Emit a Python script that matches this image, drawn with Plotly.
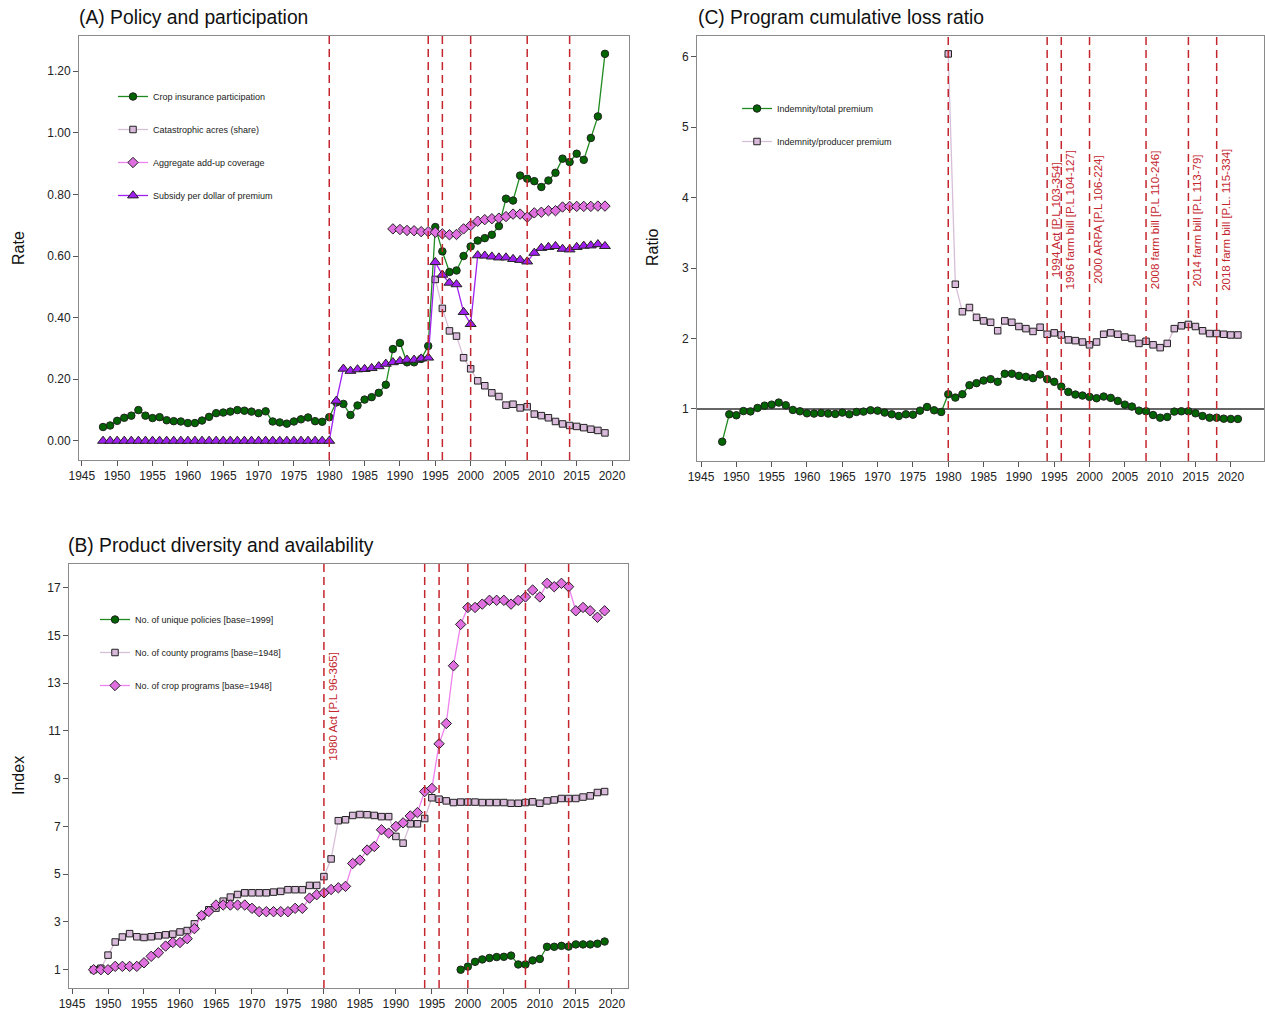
import plotly.graph_objects as go

W, H = 1265, 1015

# ---------------- Panel A data ----------------
years_a = list(range(1948, 2020))
participation = [0.045, 0.050, 0.065, 0.075, 0.082, 0.100, 0.082, 0.074, 0.077, 0.067,
                 0.064, 0.063, 0.058, 0.058, 0.066, 0.078, 0.090, 0.092, 0.095, 0.100,
                 0.098, 0.095, 0.090, 0.096, 0.063, 0.060, 0.056, 0.063, 0.070, 0.076,
                 0.064, 0.062, 0.077, 0.125, 0.120, 0.084, 0.115, 0.134, 0.142, 0.156,
                 0.182, 0.298, 0.318, 0.255, 0.255, 0.266, 0.308, 0.694, 0.615, 0.548,
                 0.553, 0.600, 0.631, 0.650, 0.658, 0.669, 0.697, 0.786, 0.780, 0.861,
                 0.851, 0.843, 0.824, 0.845, 0.870, 0.916, 0.905, 0.932, 0.912, 0.983,
                 1.053, 1.256]
subsidy = [0.0, 0.0, 0.0, 0.0, 0.0, 0.0, 0.0, 0.0, 0.0, 0.0,
           0.0, 0.0, 0.0, 0.0, 0.0, 0.0, 0.0, 0.0, 0.0, 0.0,
           0.0, 0.0, 0.0, 0.0, 0.0, 0.0, 0.0, 0.0, 0.0, 0.0,
           0.0, 0.0, 0.0, 0.130, 0.234, 0.227, 0.232, 0.233, 0.236, 0.242,
           0.250, 0.255, 0.259, 0.263, 0.263, 0.267, 0.270, 0.580, 0.539, 0.513,
           0.508, 0.418, 0.379, 0.602, 0.601, 0.598, 0.595, 0.595, 0.590, 0.587,
           0.582, 0.610, 0.626, 0.629, 0.632, 0.623, 0.621, 0.629, 0.633, 0.634,
           0.638, 0.632]
years_cat = list(range(1995, 2020))
catastrophic = [0.524, 0.430, 0.357, 0.340, 0.270, 0.234, 0.195, 0.179, 0.156, 0.144,
                0.116, 0.119, 0.107, 0.111, 0.087, 0.082, 0.075, 0.063, 0.055, 0.050,
                0.047, 0.043, 0.038, 0.034, 0.026]
years_agg = list(range(1989, 2020))
aggregate = [0.688, 0.686, 0.683, 0.682, 0.679, 0.679, 0.677, 0.672, 0.669, 0.670,
             0.688, 0.699, 0.713, 0.718, 0.721, 0.723, 0.728, 0.736, 0.736, 0.726,
             0.740, 0.742, 0.747, 0.747, 0.759, 0.761, 0.761, 0.761, 0.761, 0.762,
             0.762]

# ---------------- Panel C data ----------------
years_c = list(range(1948, 2022))
loss_total = [0.535, 0.924, 0.910, 0.970, 0.965, 1.014, 1.047, 1.061, 1.090, 1.052,
              0.986, 0.967, 0.938, 0.934, 0.943, 0.934, 0.929, 0.948, 0.924, 0.957,
              0.962, 0.981, 0.976, 0.948, 0.924, 0.900, 0.924, 0.919, 0.976, 1.028,
              0.981, 0.957, 1.209, 1.161, 1.209, 1.337, 1.366, 1.403, 1.423, 1.385,
              1.499, 1.500, 1.470, 1.456, 1.437, 1.489, 1.423, 1.385, 1.318, 1.242,
              1.204, 1.190, 1.171, 1.152, 1.176, 1.157, 1.114, 1.061, 1.033, 0.976,
              0.967, 0.914, 0.876, 0.886, 0.962, 0.967, 0.967, 0.938, 0.900, 0.876,
              0.876, 0.862, 0.858, 0.858]
years_prod = list(range(1980, 2022))
loss_producer = [6.04, 2.77, 2.38, 2.44, 2.30, 2.25, 2.23, 2.11, 2.25, 2.23,
                 2.17, 2.14, 2.10, 2.16, 2.06, 2.08, 2.05, 1.98, 1.97, 1.95,
                 1.91, 1.95, 2.06, 2.08, 2.06, 2.02, 2.00, 1.93, 1.96, 1.91,
                 1.87, 1.93, 2.14, 2.18, 2.20, 2.17, 2.11, 2.07, 2.07, 2.06,
                 2.05, 2.05]

# ---------------- Panel B data ----------------
years_b = list(range(1948, 2020))
crop_programs = [1.00, 1.00, 1.00, 1.14, 1.14, 1.14, 1.14, 1.29, 1.56, 1.71,
                 1.99, 2.14, 2.14, 2.30, 2.72, 3.27, 3.44, 3.71, 3.71, 3.71,
                 3.71, 3.71, 3.57, 3.43, 3.43, 3.43, 3.43, 3.43, 3.57, 3.57,
                 4.00, 4.14, 4.22, 4.36, 4.43, 4.49, 5.45, 5.59, 6.01, 6.16,
                 6.86, 6.72, 7.00, 7.15, 7.44, 7.58, 8.46, 8.59, 10.46, 11.31,
                 13.73, 15.46, 16.17, 16.17, 16.31, 16.47, 16.47, 16.47, 16.31, 16.47,
                 16.61, 16.90, 16.61, 17.18, 17.04, 17.18, 17.04, 16.03, 16.17, 16.03,
                 15.76, 16.03]
county_programs = [1.00, 1.06, 1.61, 2.16, 2.37, 2.51, 2.38, 2.35, 2.38, 2.42,
                   2.46, 2.49, 2.58, 2.64, 2.92, 3.25, 3.51, 3.58, 3.87, 4.04,
                   4.15, 4.22, 4.22, 4.22, 4.22, 4.25, 4.28, 4.35, 4.35, 4.35,
                   4.53, 4.53, 4.90, 5.64, 7.24, 7.28, 7.46, 7.50, 7.49, 7.46,
                   7.41, 7.41, 6.58, 6.30, 7.11, 7.11, 7.33, 8.20, 8.14, 8.07,
                   8.00, 8.02, 8.02, 8.02, 8.00, 8.00, 8.00, 8.00, 7.97, 7.97,
                   8.00, 8.03, 7.97, 8.07, 8.11, 8.17, 8.17, 8.17, 8.23, 8.28,
                   8.42, 8.46]
years_pol = list(range(1999, 2020))
unique_policies = [1.00, 1.13, 1.33, 1.43, 1.49, 1.53, 1.54, 1.59, 1.22, 1.22,
                   1.39, 1.45, 1.96, 1.96, 2.00, 1.97, 2.06, 2.06, 2.06, 2.09,
                   2.18]

# ---------------- policy events ----------------
events_ab = [1980, 1994, 1996, 2000, 2008, 2014]
events_c = [1980, 1994, 1996, 2000, 2008, 2014, 2018]
labels_c_years = [1994, 1996, 2000, 2008, 2014, 2018]
labels_c = ["1994 Act [P.L 103-354]", "1996 farm bill [P.L 104-127]",
            "2000 ARPA [P.L 106-224]", "2008 farm bill [P.L 110-246]",
            "2014 farm bill [P.L 113-79]", "2018 farm bill [P.L. 115-334]"]
label_b_year = 1980
label_b = "1980 Act [P.L 96-365]"

FONT = "Arial, Liberation Sans, sans-serif"
RED = "#C4262E"
GREEN_L = "#1F8A1F"
GREEN_M = "#006400"
THISTLE = "#D8BFD8"
THISTLE_M = "#D9B9D9"
VIOLET = "#EE82EE"
VIOLET_M = "#E070E0"
PURPLE = "#A020F0"
EDGE = "#222222"

fig = go.Figure()


def add(x, y, name, lcolor, mcolor, symbol, size, xa, ya, legend, group):
    fig.add_trace(go.Scatter(
        x=x, y=y, name=name, mode="lines+markers",
        line=dict(color=lcolor, width=1.3),
        marker=dict(symbol=symbol, size=size, color=mcolor,
                    line=dict(color=EDGE, width=1)),
        xaxis=xa, yaxis=ya, legend=legend, legendgroup=group))


# Panel A
add(years_a, participation, "Crop insurance participation", GREEN_L, GREEN_M, "circle", 7.5, "x", "y", "legend", "a1")
add(years_cat, catastrophic, "Catastrophic acres (share)", THISTLE, THISTLE_M, "square", 6.5, "x", "y", "legend", "a2")
add(years_agg, aggregate, "Aggregate add-up coverage", VIOLET, VIOLET_M, "diamond", 8, "x", "y", "legend", "a3")
add(years_a, subsidy, "Subsidy per dollar of premium", PURPLE, PURPLE, "triangle-up", 9.5, "x", "y", "legend", "a4")

# Panel C
add(years_c, loss_total, "Indemnity/total premium", GREEN_L, GREEN_M, "circle", 7.5, "x2", "y2", "legend2", "c1")
add(years_prod, loss_producer, "Indemnity/producer premium", THISTLE, THISTLE_M, "square", 6.5, "x2", "y2", "legend2", "c2")

# Panel B
add(years_pol, unique_policies, "No. of unique policies [base=1999]", GREEN_L, GREEN_M, "circle", 7.5, "x3", "y3", "legend3", "b1")
add(years_b, county_programs, "No. of county programs [base=1948]", THISTLE, THISTLE_M, "square", 6.5, "x3", "y3", "legend3", "b2")
add(years_b, crop_programs, "No. of crop programs [base=1948]", VIOLET, VIOLET_M, "diamond", 8, "x3", "y3", "legend3", "b3")

axis_common = dict(showline=True, mirror=True, linecolor="#8a8a8a", linewidth=1,
                   ticks="outside", ticklen=5, tickcolor="#555", tickwidth=1,
                   showgrid=False, zeroline=False, automargin=False,
                   tickfont=dict(family=FONT, size=12, color="#222"))

xticks = dict(tick0=1945, dtick=5, tickmode="linear")

fig.update_layout(
    width=W, height=H, margin=dict(l=0, r=0, t=0, b=0, autoexpand=False),
    paper_bgcolor="white", plot_bgcolor="white",
    font=dict(family=FONT, color="#222"),
    xaxis=dict(domain=[79 / W, 629 / W], range=[1944.6, 2022.4], anchor="y", **xticks, **axis_common),
    yaxis=dict(domain=[1 - 460 / H, 1 - 36 / H], range=[-0.062, 1.314], anchor="x",
               tickmode="array", tickvals=[0, 0.2, 0.4, 0.6, 0.8, 1.0, 1.2],
               ticktext=["0.00", "0.20", "0.40", "0.60", "0.80", "1.00", "1.20"], **axis_common),
    xaxis2=dict(domain=[697 / W, 1264 / W], range=[1944.43, 2024.7], anchor="y2", **xticks, **axis_common),
    yaxis2=dict(domain=[1 - 461 / H, 1 - 36 / H], range=[0.261, 6.294], anchor="x2",
                tickmode="linear", tick0=1, dtick=1, **axis_common),
    xaxis3=dict(domain=[69 / W, 628 / W], range=[1944.58, 2022.25], anchor="y3", **xticks, **axis_common),
    yaxis3=dict(domain=[1 - 988 / H, 1 - 564 / H], range=[0.234, 17.99], anchor="x3",
                tickmode="linear", tick0=1, dtick=2, **axis_common),
    legend=dict(x=113 / W, y=1 - 82 / H, xanchor="left", yanchor="top",
                bgcolor="rgba(0,0,0,0)", font=dict(family=FONT, size=9, color="#222"),
                tracegroupgap=14, itemwidth=30),
    legend2=dict(x=737 / W, y=1 - 94 / H, xanchor="left", yanchor="top",
                 bgcolor="rgba(0,0,0,0)", font=dict(family=FONT, size=9, color="#222"),
                 tracegroupgap=14, itemwidth=30),
    legend3=dict(x=95 / W, y=1 - 605 / H, xanchor="left", yanchor="top",
                 bgcolor="rgba(0,0,0,0)", font=dict(family=FONT, size=9, color="#222"),
                 tracegroupgap=14, itemwidth=30),
    showlegend=True,
)

shapes = []
for yr in events_ab:
    for xa, ya in (("x", "y"), ("x3", "y3")):
        shapes.append(dict(type="line", xref=xa, yref=ya + " domain", x0=yr, x1=yr, y0=0, y1=1,
                           layer="above", line=dict(color=RED, width=1.5, dash="8px,5px")))
for yr in events_c:
    shapes.append(dict(type="line", xref="x2", yref="y2 domain", x0=yr, x1=yr, y0=0, y1=1,
                       layer="above", line=dict(color=RED, width=1.5, dash="8px,5px")))
shapes.append(dict(type="line", xref="x2 domain", yref="y2", x0=0, x1=1, y0=1, y1=1,
                   layer="below", line=dict(color="#333", width=1.5)))
fig.update_layout(shapes=shapes)

ann = []
for yr, txt in zip(labels_c_years, labels_c):
    ann.append(dict(x=yr, y=3.68, xref="x2", yref="y2", text=txt, textangle=-90, showarrow=False,
                    xshift=9, font=dict(family=FONT, size=11.5, color=RED)))
ann.append(dict(x=label_b_year, y=12.05, xref="x3", yref="y3", text=label_b, textangle=-90,
                showarrow=False, xshift=9, font=dict(family=FONT, size=11.5, color=RED)))

titles = [("(A) Policy and participation", 193, 17),
          ("(C) Program cumulative loss ratio", 841, 17),
          ("(B) Product diversity and availability", 221, 545)]
for t, px, py in titles:
    ann.append(dict(x=px / W, y=1 - py / H, xref="paper", yref="paper", text=t, showarrow=False,
                    xanchor="center", yanchor="middle", font=dict(family=FONT, size=19.3, color="#111")))
ytitles = [("Rate", 18, 248), ("Ratio", 652, 248), ("Index", 18, 776)]
for t, px, py in ytitles:
    ann.append(dict(x=px / W, y=1 - py / H, xref="paper", yref="paper", text=t, showarrow=False,
                    textangle=-90, xanchor="center", yanchor="middle",
                    font=dict(family=FONT, size=16, color="#111")))
fig.update_layout(annotations=ann)

fig.write_html("out.html")
